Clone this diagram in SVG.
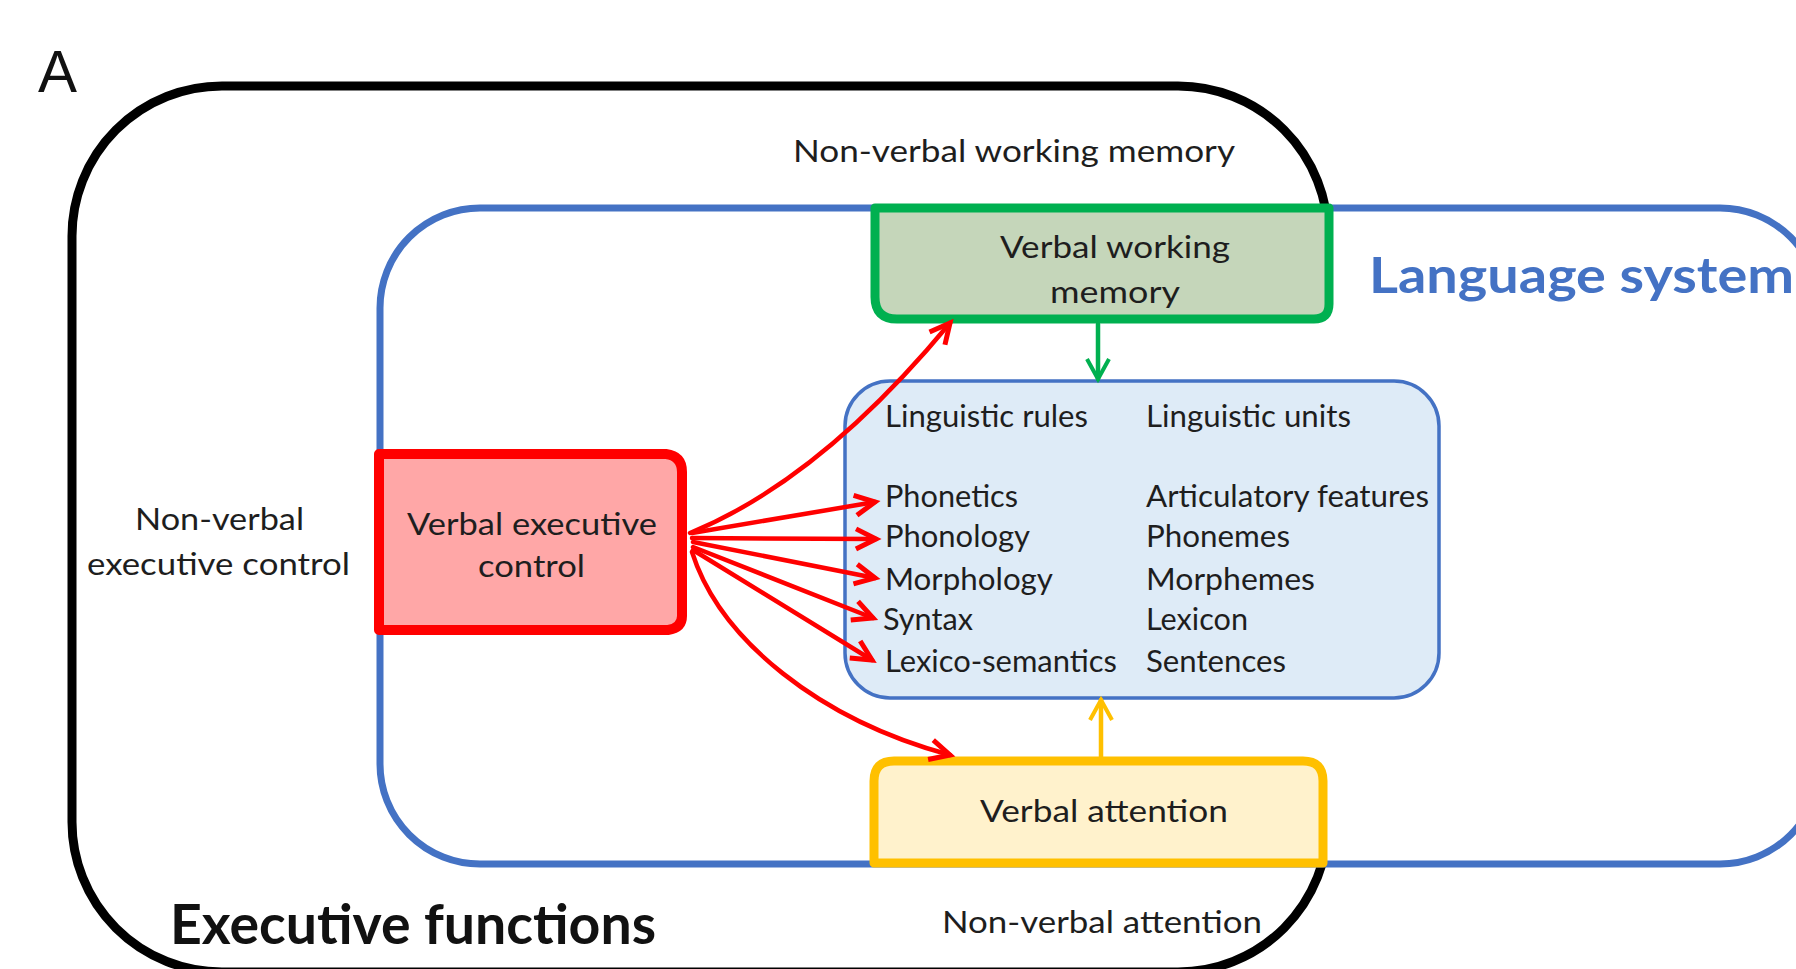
<svg xmlns="http://www.w3.org/2000/svg" width="1796" height="969" viewBox="0 0 1796 969">
<defs>
<style>
.t{font-family:Lato,"Open Sans","Liberation Sans",sans-serif;font-size:31px;fill:#1e1e1e}
.big{font-family:Lato,"Open Sans","Liberation Sans",sans-serif;font-weight:bold}
.con{fill:none;stroke-width:4.5;stroke-linecap:round}
.red{stroke:#FF0000}
</style>
<marker id="arR" markerUnits="userSpaceOnUse" markerWidth="40" markerHeight="40" viewBox="-30 -20 40 40" refX="0" refY="0" orient="auto"><path d="M-20,-10 L0,0 L-20,10" fill="none" stroke="#FF0000" stroke-width="5"/></marker>
<marker id="arG" markerUnits="userSpaceOnUse" markerWidth="40" markerHeight="40" viewBox="-30 -20 40 40" refX="0" refY="0" orient="auto"><path d="M-20,-11 L0,0 L-20,11" fill="none" stroke="#00B050" stroke-width="4"/></marker>
<marker id="arY" markerUnits="userSpaceOnUse" markerWidth="40" markerHeight="40" viewBox="-30 -20 40 40" refX="0" refY="0" orient="auto"><path d="M-20,-11 L0,0 L-20,11" fill="none" stroke="#FFC000" stroke-width="4"/></marker>
</defs>
<rect x="0" y="0" width="1796" height="969" fill="#FFFFFF"/>
<text x="38" y="92" font-family="'Liberation Sans',Arial,sans-serif" font-size="60" fill="#111" textLength="39" lengthAdjust="spacingAndGlyphs">A</text>

<g id="executive-functions">
<rect x="72" y="86" width="1256" height="886" rx="150" ry="150" fill="#FFFFFF" stroke="#000000" stroke-width="9"/>
<text class="t" x="793" y="162" textLength="442" lengthAdjust="spacingAndGlyphs">Non-verbal working memory</text>
<text class="t" x="135" y="530" textLength="169" lengthAdjust="spacingAndGlyphs">Non-verbal</text>
<text class="t" x="87" y="575" textLength="263" lengthAdjust="spacingAndGlyphs">executive control</text>
<text class="big" x="170" y="944" style="font-size:56px;fill:#111" textLength="486" lengthAdjust="spacingAndGlyphs">Executive functions</text>
<text class="t" x="942" y="933" textLength="320" lengthAdjust="spacingAndGlyphs">Non-verbal attention</text>
</g>

<g id="language-system">
<rect x="380" y="208" width="1440" height="656" rx="100" ry="100" fill="#FFFFFF" stroke="#4472C4" stroke-width="7"/>
<text class="big" x="1369" y="293" style="font-size:49px;fill:#4472C4" textLength="425" lengthAdjust="spacingAndGlyphs">Language system</text>
</g>

<g id="linguistic-box">
<rect x="845" y="381" width="594" height="317" rx="45" ry="45" fill="#DEEBF7" stroke="#4472C4" stroke-width="3.5"/>
<text class="t" x="885" y="427" textLength="203" lengthAdjust="spacingAndGlyphs">Linguistic rules</text>
<text class="t" x="1146" y="427" textLength="205" lengthAdjust="spacingAndGlyphs">Linguistic units</text>
<text class="t" x="885" y="507" textLength="133" lengthAdjust="spacingAndGlyphs">Phonetics</text>
<text class="t" x="885" y="547" textLength="145" lengthAdjust="spacingAndGlyphs">Phonology</text>
<text class="t" x="885" y="590" textLength="168" lengthAdjust="spacingAndGlyphs">Morphology</text>
<text class="t" x="883" y="630" textLength="90" lengthAdjust="spacingAndGlyphs">Syntax</text>
<text class="t" x="885" y="672" textLength="232" lengthAdjust="spacingAndGlyphs">Lexico-semantics</text>
<text class="t" x="1146" y="507" textLength="283" lengthAdjust="spacingAndGlyphs">Articulatory features</text>
<text class="t" x="1146" y="547" textLength="144" lengthAdjust="spacingAndGlyphs">Phonemes</text>
<text class="t" x="1146" y="590" textLength="169" lengthAdjust="spacingAndGlyphs">Morphemes</text>
<text class="t" x="1146" y="630" textLength="102" lengthAdjust="spacingAndGlyphs">Lexicon</text>
<text class="t" x="1146" y="672" textLength="140" lengthAdjust="spacingAndGlyphs">Sentences</text>
</g>

<g id="verbal-working-memory">
<path d="M875,208 H1329 V304 Q1329,319 1314,319 H897 Q875,319 875,297 Z" fill="#C5D6BA" stroke="#00B050" stroke-width="9" stroke-linejoin="round"/>
<text class="t" x="1000" y="258" textLength="230" lengthAdjust="spacingAndGlyphs">Verbal working</text>
<text class="t" x="1050" y="303" textLength="130" lengthAdjust="spacingAndGlyphs">memory</text>
</g>

<g id="verbal-attention">
<path d="M874,863 V781 Q874,761 894,761 H1303 Q1323,761 1323,781 V863 Z" fill="#FFF2CC" stroke="#FFC000" stroke-width="9" stroke-linejoin="round"/>
<text class="t" x="980" y="822" textLength="248" lengthAdjust="spacingAndGlyphs">Verbal attention</text>
</g>

<g id="verbal-executive-control">
<path d="M379,454 H666 Q682,456 682,472 V616 Q682,628 668,630 H379 Z" fill="#FFA7A7" stroke="#FF0000" stroke-width="10" stroke-linejoin="round"/>
<text class="t" x="407" y="535" textLength="250" lengthAdjust="spacingAndGlyphs">Verbal executive</text>
<text class="t" x="478" y="577" textLength="107" lengthAdjust="spacingAndGlyphs">control</text>
</g>

<g id="connectors">
<path class="con red" d="M690,533 Q820,480 950,323" marker-end="url(#arR)"/>
<path class="con red" d="M692,533 L875,502" marker-end="url(#arR)"/>
<path class="con red" d="M692,538 L876,539" marker-end="url(#arR)"/>
<path class="con red" d="M693,542 L875,578" marker-end="url(#arR)"/>
<path class="con red" d="M693,547 L873,618" marker-end="url(#arR)"/>
<path class="con red" d="M693,550 L872,660" marker-end="url(#arR)"/>
<path class="con red" d="M692,552 C720,640 820,720 950,755" marker-end="url(#arR)"/>
<path class="con" stroke="#00B050" stroke-width="3.5" d="M1098,324 V379" marker-end="url(#arG)"/>
<path class="con" stroke="#FFC000" stroke-width="3.5" d="M1101,757 V700" marker-end="url(#arY)"/>
</g>
</svg>
